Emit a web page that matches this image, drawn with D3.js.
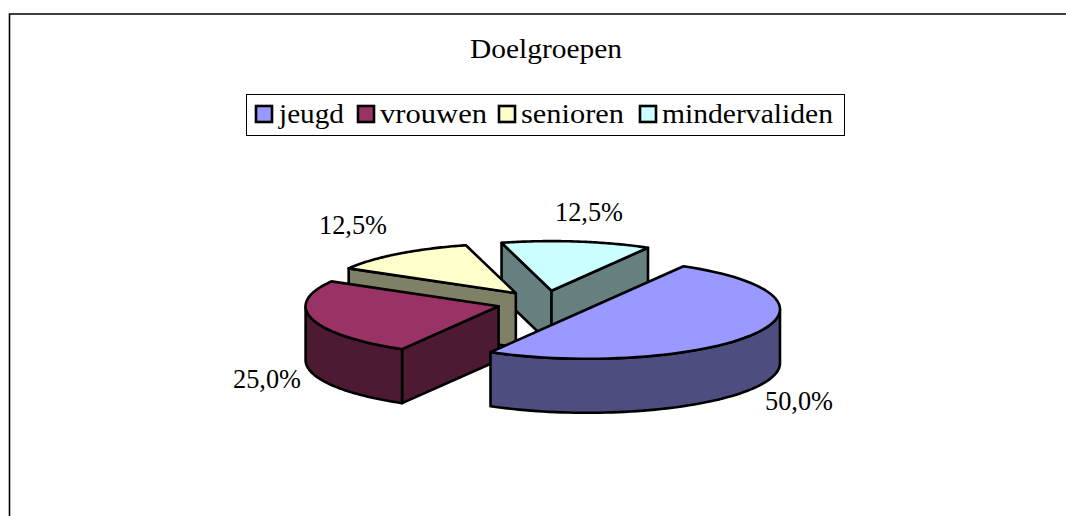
<!DOCTYPE html>
<html><head><meta charset="utf-8">
<script src="https://cdn.jsdelivr.net/npm/d3@7/dist/d3.min.js"></script>
<style>html,body{margin:0;padding:0;background:#fff;overflow:hidden}svg{display:block}text{font-family:"Liberation Serif",serif;fill:#000}</style>
</head><body><svg width="1066" height="516"></svg>
<script>
const categories=["jeugd","vrouwen","senioren","mindervaliden"];
const values=[50,25,12.5,12.5];
const labels=["50,0%","25,0%","12,5%","12,5%"];
const topColors=["#9999ff","#993366","#ffffcc","#ccffff"];
const sideColors=["#4d4d80","#4d1933","#808066","#668080"];
const labelPos=[[765,401],[233,379],[319,225],[555,212]];
const labelW=68;
const fs=27.5;
const svg=d3.select("svg");
svg.append("path").attr("d","M9.5,516V14H1066").attr("fill","none").attr("stroke","#000").attr("stroke-width",1.6);
svg.append("text").attr("x",470).attr("y",58).attr("font-size",fs).attr("textLength",152).attr("lengthAdjust","spacingAndGlyphs").text("Doelgroepen");
const rx=193,ry=49.6,depth=54,cx=545.2,cy=303,explode=0.25;
const pie=d3.pie().sort(null).startAngle(Math.PI/6).endAngle(Math.PI/6+2*Math.PI);
const arcs=pie(values);
function pt(c,a,dy=0){return [c[0]+rx*Math.sin(a),c[1]-ry*Math.cos(a)+dy];}
function ell(a0,a1,c,dy){const n=64,p=[];for(let i=0;i<=n;i++)p.push(pt(c,a0+(a1-a0)*i/n,dy));return p;}
const line=d3.line();
const g=svg.append("g");
[3,2,1,0].forEach(i=>{
 const d=arcs[i],m=(d.startAngle+d.endAngle)/2;
 const c=[cx+explode*rx*Math.sin(m),cy-explode*ry*Math.cos(m)];
 const add=(pts,fill)=>g.append("path").attr("d",line(pts)+"Z").attr("fill",fill).attr("stroke","#000").attr("stroke-width",2.6).attr("stroke-linejoin","round");
 const s=pt(c,d.startAngle),e=pt(c,d.endAngle);
 if(Math.sin(d.startAngle)<0) add([s,[s[0],s[1]+depth],[c[0],c[1]+depth],c],sideColors[i]);
 if(Math.sin(d.endAngle)>0) add([e,[e[0],e[1]+depth],[c[0],c[1]+depth],c],sideColors[i]);
 const lo=Math.max(d.startAngle,Math.PI/2),hi=Math.min(d.endAngle,3*Math.PI/2);
 if(hi>lo) add(ell(lo,hi,c,0).concat(ell(hi,lo,c,depth)),sideColors[i]);
 add([c].concat(ell(d.startAngle,d.endAngle,c,0)),topColors[i]);
});
labels.forEach((t,i)=>svg.append("text").attr("x",labelPos[i][0]).attr("y",labelPos[i][1]+9).attr("font-size",fs).attr("textLength",labelW).attr("lengthAdjust","spacingAndGlyphs").text(t));
const lg=svg.append("g");
lg.append("rect").attr("x",246.5).attr("y",94.5).attr("width",598).attr("height",41).attr("fill","#fff").attr("stroke","#000");
const swX=[256,358,499,640],txX=[279,380,521,662],txW=[65,107,103,171];
categories.forEach((t,i)=>{
 lg.append("rect").attr("x",swX[i]).attr("y",106).attr("width",16).attr("height",16).attr("fill",topColors[i]).attr("stroke","#000").attr("stroke-width",2.6);
 lg.append("text").attr("x",txX[i]).attr("y",123).attr("font-size",fs).attr("textLength",txW[i]).attr("lengthAdjust","spacingAndGlyphs").text(t);
});
</script></body></html>
